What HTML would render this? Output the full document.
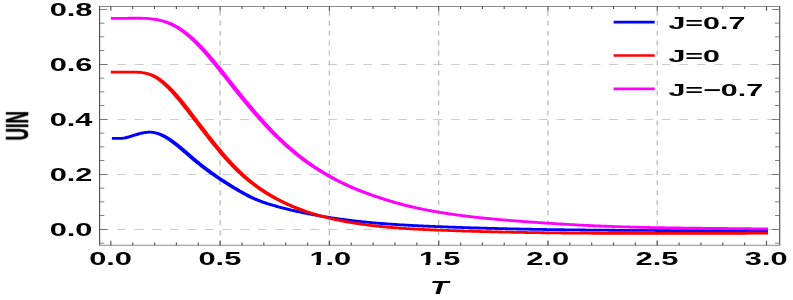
<!DOCTYPE html>
<html><head><meta charset="utf-8"><title>UIN vs T</title>
<style>html,body{margin:0;padding:0;background:#fff;}body{width:793px;height:300px;overflow:hidden;font-family:"Liberation Sans",sans-serif;}svg{display:block;}</style>
</head><body>
<svg width="793" height="300" viewBox="0 0 793 300">
<defs><filter id="idf" x="0" y="0" width="100%" height="100%" filterUnits="userSpaceOnUse" color-interpolation-filters="sRGB"><feOffset dx="0" dy="0"/></filter></defs>
<rect width="793" height="300" fill="#fff"/>
<g transform="scale(1.75,1)">
<g stroke="#bcbcbc" stroke-width="0.75" fill="none">
<path stroke-dasharray="5.02 5.02" d="M56.91,229.30 H445.54"/>
<path stroke-dasharray="5.02 5.02" d="M56.91,174.30 H445.54"/>
<path stroke-dasharray="5.02 5.02" d="M56.91,119.30 H445.54"/>
<path stroke-dasharray="5.02 5.02" d="M56.91,64.30 H445.54"/>
<path stroke-dasharray="4.99 4.99" d="M125.79,245.20 V6.35"/>
<path stroke-dasharray="4.99 4.99" d="M188.23,245.20 V6.35"/>
<path stroke-dasharray="4.99 4.99" d="M250.67,245.20 V6.35"/>
<path stroke-dasharray="4.99 4.99" d="M313.11,245.20 V6.35"/>
<path stroke-dasharray="4.99 4.99" d="M375.56,245.20 V6.35"/>
</g>
<path d="M63.94,138.38 L64.51,138.38 L65.09,138.39 L65.66,138.41 L66.23,138.43 L66.80,138.45 L67.37,138.46 L67.94,138.45 L68.51,138.43 L69.09,138.38 L69.66,138.30 L70.23,138.19 L70.80,138.05 L71.37,137.86 L71.94,137.65 L72.51,137.41 L73.09,137.15 L73.66,136.86 L74.23,136.57 L74.80,136.26 L75.37,135.95 L75.94,135.63 L76.51,135.32 L77.09,135.00 L77.66,134.70 L78.23,134.40 L78.80,134.12 L79.37,133.84 L79.94,133.58 L80.51,133.34 L81.09,133.11 L81.66,132.90 L82.23,132.72 L82.80,132.56 L83.37,132.42 L83.94,132.32 L84.51,132.24 L85.09,132.20 L85.66,132.19 L86.23,132.22 L86.80,132.29 L87.37,132.40 L87.94,132.55 L88.51,132.74 L89.09,132.97 L89.66,133.24 L90.23,133.55 L90.80,133.89 L91.37,134.27 L91.94,134.68 L92.51,135.13 L93.09,135.61 L93.66,136.12 L94.23,136.65 L94.80,137.22 L95.37,137.81 L95.94,138.43 L96.51,139.07 L97.09,139.73 L97.66,140.42 L98.23,141.13 L98.80,141.85 L99.37,142.60 L99.94,143.36 L100.51,144.13 L101.09,144.92 L101.66,145.73 L102.23,146.54 L102.80,147.37 L103.37,148.20 L103.94,149.04 L104.51,149.89 L105.09,150.75 L105.66,151.61 L106.23,152.47 L106.80,153.34 L107.37,154.20 L107.94,155.07 L108.51,155.93 L109.09,156.79 L109.66,157.65 L110.23,158.50 L110.80,159.35 L111.37,160.18 L111.94,161.01 L112.51,161.83 L113.09,162.65 L113.66,163.45 L114.23,164.25 L114.80,165.04 L115.37,165.82 L115.94,166.60 L116.51,167.37 L117.09,168.13 L117.66,168.89 L118.23,169.64 L118.80,170.38 L119.37,171.12 L119.94,171.85 L120.51,172.57 L121.09,173.29 L121.66,174.00 L122.23,174.70 L122.80,175.40 L123.37,176.10 L123.94,176.78 L124.51,177.47 L125.09,178.14 L125.66,178.81 L126.23,179.48 L126.80,180.14 L127.37,180.79 L127.94,181.44 L128.51,182.09 L129.09,182.73 L129.66,183.37 L130.23,184.00 L130.80,184.62 L131.37,185.25 L131.94,185.86 L132.51,186.48 L133.09,187.09 L133.66,187.69 L134.23,188.29 L134.80,188.89 L135.37,189.48 L135.94,190.07 L136.51,190.66 L137.09,191.23 L137.66,191.81 L138.23,192.37 L138.80,192.93 L139.37,193.48 L139.94,194.03 L140.51,194.56 L141.09,195.09 L141.66,195.61 L142.23,196.12 L142.80,196.62 L143.37,197.11 L143.94,197.59 L144.51,198.06 L145.09,198.52 L145.66,198.97 L146.23,199.40 L146.80,199.82 L147.37,200.23 L147.94,200.63 L148.51,201.02 L149.09,201.39 L149.66,201.76 L150.23,202.11 L150.80,202.46 L151.37,202.80 L151.94,203.13 L152.51,203.46 L153.09,203.77 L153.66,204.08 L154.23,204.39 L154.80,204.69 L155.37,204.98 L155.94,205.27 L156.51,205.55 L157.09,205.83 L157.66,206.11 L158.23,206.39 L158.80,206.66 L159.37,206.93 L159.94,207.19 L160.51,207.46 L161.09,207.72 L161.66,207.98 L162.23,208.24 L162.80,208.49 L163.37,208.74 L163.94,208.99 L164.51,209.24 L165.09,209.49 L165.66,209.73 L166.23,209.97 L166.80,210.21 L167.37,210.44 L167.94,210.67 L168.51,210.90 L169.09,211.13 L169.66,211.36 L170.23,211.58 L170.80,211.80 L171.37,212.02 L171.94,212.24 L172.51,212.45 L173.09,212.66 L173.66,212.87 L174.23,213.08 L174.80,213.28 L175.37,213.49 L175.94,213.69 L176.51,213.89 L177.09,214.08 L177.66,214.28 L178.23,214.47 L178.80,214.66 L179.37,214.85 L179.94,215.03 L180.51,215.22 L181.09,215.40 L181.66,215.58 L182.23,215.76 L182.80,215.93 L183.37,216.11 L183.94,216.28 L184.51,216.45 L185.09,216.62 L185.66,216.78 L186.23,216.95 L186.80,217.11 L187.37,217.27 L187.94,217.43 L188.51,217.58 L189.09,217.74 L189.66,217.89 L190.23,218.04 L190.80,218.19 L191.37,218.34 L191.94,218.48 L192.51,218.63 L193.09,218.77 L193.66,218.91 L194.23,219.05 L194.80,219.19 L195.37,219.32 L195.94,219.46 L196.51,219.59 L197.09,219.72 L197.66,219.85 L198.23,219.97 L198.80,220.10 L199.37,220.22 L199.94,220.35 L200.51,220.47 L201.09,220.59 L201.66,220.70 L202.23,220.82 L202.80,220.93 L203.37,221.05 L203.94,221.16 L204.51,221.27 L205.09,221.38 L205.66,221.48 L206.23,221.59 L206.80,221.69 L207.37,221.80 L207.94,221.90 L208.51,222.00 L209.09,222.10 L209.66,222.20 L210.23,222.29 L210.80,222.39 L211.37,222.48 L211.94,222.57 L212.51,222.67 L213.09,222.76 L213.66,222.84 L214.23,222.93 L214.80,223.02 L215.37,223.10 L215.94,223.19 L216.51,223.27 L217.09,223.35 L217.66,223.43 L218.23,223.51 L218.80,223.59 L219.37,223.67 L219.94,223.74 L220.51,223.82 L221.09,223.89 L221.66,223.97 L222.23,224.04 L222.80,224.11 L223.37,224.18 L223.94,224.25 L224.51,224.32 L225.09,224.38 L225.66,224.45 L226.23,224.51 L226.80,224.58 L227.37,224.64 L227.94,224.70 L228.51,224.77 L229.09,224.83 L229.66,224.89 L230.23,224.95 L230.80,225.01 L231.37,225.06 L231.94,225.12 L232.51,225.18 L233.09,225.23 L233.66,225.29 L234.23,225.34 L234.80,225.39 L235.37,225.45 L235.94,225.50 L236.51,225.55 L237.09,225.60 L237.66,225.65 L238.23,225.70 L238.80,225.75 L239.37,225.80 L239.94,225.84 L240.51,225.89 L241.09,225.94 L241.66,225.98 L242.23,226.03 L242.80,226.07 L243.37,226.12 L243.94,226.16 L244.51,226.21 L245.09,226.25 L245.66,226.29 L246.23,226.33 L246.80,226.38 L247.37,226.42 L247.94,226.46 L248.51,226.50 L249.09,226.54 L249.66,226.58 L250.23,226.62 L250.80,226.66 L251.37,226.70 L251.94,226.74 L252.51,226.77 L253.09,226.81 L253.66,226.85 L254.23,226.89 L254.80,226.93 L255.37,226.96 L255.94,227.00 L256.51,227.04 L257.09,227.07 L257.66,227.11 L258.23,227.15 L258.80,227.18 L259.37,227.22 L259.94,227.25 L260.51,227.29 L261.09,227.32 L261.66,227.36 L262.23,227.39 L262.80,227.43 L263.37,227.46 L263.94,227.49 L264.51,227.53 L265.09,227.56 L265.66,227.59 L266.23,227.62 L266.80,227.66 L267.37,227.69 L267.94,227.72 L268.51,227.75 L269.09,227.78 L269.66,227.81 L270.23,227.84 L270.80,227.88 L271.37,227.91 L271.94,227.94 L272.51,227.97 L273.09,227.99 L273.66,228.02 L274.23,228.05 L274.80,228.08 L275.37,228.11 L275.94,228.14 L276.51,228.17 L277.09,228.20 L277.66,228.22 L278.23,228.25 L278.80,228.28 L279.37,228.31 L279.94,228.33 L280.51,228.36 L281.09,228.39 L281.66,228.41 L282.23,228.44 L282.80,228.46 L283.37,228.49 L283.94,228.51 L284.51,228.54 L285.09,228.56 L285.66,228.59 L286.23,228.61 L286.80,228.64 L287.37,228.66 L287.94,228.69 L288.51,228.71 L289.09,228.73 L289.66,228.76 L290.23,228.78 L290.80,228.80 L291.37,228.82 L291.94,228.85 L292.51,228.87 L293.09,228.89 L293.66,228.91 L294.23,228.93 L294.80,228.96 L295.37,228.98 L295.94,229.00 L296.51,229.02 L297.09,229.04 L297.66,229.06 L298.23,229.08 L298.80,229.10 L299.37,229.12 L299.94,229.14 L300.51,229.16 L301.09,229.18 L301.66,229.20 L302.23,229.22 L302.80,229.24 L303.37,229.25 L303.94,229.27 L304.51,229.29 L305.09,229.31 L305.66,229.33 L306.23,229.34 L306.80,229.36 L307.37,229.38 L307.94,229.40 L308.51,229.41 L309.09,229.43 L309.66,229.45 L310.23,229.46 L310.80,229.48 L311.37,229.50 L311.94,229.51 L312.51,229.53 L313.09,229.54 L313.66,229.56 L314.23,229.57 L314.80,229.59 L315.37,229.61 L315.94,229.62 L316.51,229.63 L317.09,229.65 L317.66,229.66 L318.23,229.68 L318.80,229.69 L319.37,229.71 L319.94,229.72 L320.51,229.73 L321.09,229.75 L321.66,229.76 L322.23,229.77 L322.80,229.79 L323.37,229.80 L323.94,229.81 L324.51,229.82 L325.09,229.84 L325.66,229.85 L326.23,229.86 L326.80,229.87 L327.37,229.89 L327.94,229.90 L328.51,229.91 L329.09,229.92 L329.66,229.93 L330.23,229.94 L330.80,229.95 L331.37,229.96 L331.94,229.98 L332.51,229.99 L333.09,230.00 L333.66,230.01 L334.23,230.02 L334.80,230.03 L335.37,230.04 L335.94,230.05 L336.51,230.06 L337.09,230.07 L337.66,230.08 L338.23,230.09 L338.80,230.09 L339.37,230.10 L339.94,230.11 L340.51,230.12 L341.09,230.13 L341.66,230.14 L342.23,230.15 L342.80,230.16 L343.37,230.16 L343.94,230.17 L344.51,230.18 L345.09,230.19 L345.66,230.20 L346.23,230.20 L346.80,230.21 L347.37,230.22 L347.94,230.23 L348.51,230.23 L349.09,230.24 L349.66,230.25 L350.23,230.26 L350.80,230.26 L351.37,230.27 L351.94,230.28 L352.51,230.28 L353.09,230.29 L353.66,230.30 L354.23,230.30 L354.80,230.31 L355.37,230.32 L355.94,230.32 L356.51,230.33 L357.09,230.33 L357.66,230.34 L358.23,230.34 L358.80,230.35 L359.37,230.36 L359.94,230.36 L360.51,230.37 L361.09,230.37 L361.66,230.38 L362.23,230.38 L362.80,230.39 L363.37,230.39 L363.94,230.40 L364.51,230.40 L365.09,230.41 L365.66,230.41 L366.23,230.42 L366.80,230.42 L367.37,230.43 L367.94,230.43 L368.51,230.43 L369.09,230.44 L369.66,230.44 L370.23,230.45 L370.80,230.45 L371.37,230.46 L371.94,230.46 L372.51,230.46 L373.09,230.47 L373.66,230.47 L374.23,230.47 L374.80,230.48 L375.37,230.48 L375.94,230.49 L376.51,230.49 L377.09,230.49 L377.66,230.50 L378.23,230.50 L378.80,230.50 L379.37,230.51 L379.94,230.51 L380.51,230.51 L381.09,230.51 L381.66,230.52 L382.23,230.52 L382.80,230.52 L383.37,230.53 L383.94,230.53 L384.51,230.53 L385.09,230.54 L385.66,230.54 L386.23,230.54 L386.80,230.54 L387.37,230.55 L387.94,230.55 L388.51,230.55 L389.09,230.55 L389.66,230.56 L390.23,230.56 L390.80,230.56 L391.37,230.56 L391.94,230.57 L392.51,230.57 L393.09,230.57 L393.66,230.57 L394.23,230.57 L394.80,230.58 L395.37,230.58 L395.94,230.58 L396.51,230.58 L397.09,230.59 L397.66,230.59 L398.23,230.59 L398.80,230.59 L399.37,230.59 L399.94,230.60 L400.51,230.60 L401.09,230.60 L401.66,230.60 L402.23,230.60 L402.80,230.61 L403.37,230.61 L403.94,230.61 L404.51,230.61 L405.09,230.61 L405.66,230.62 L406.23,230.62 L406.80,230.62 L407.37,230.62 L407.94,230.62 L408.51,230.63 L409.09,230.63 L409.66,230.63 L410.23,230.63 L410.80,230.63 L411.37,230.64 L411.94,230.64 L412.51,230.64 L413.09,230.64 L413.66,230.64 L414.23,230.65 L414.80,230.65 L415.37,230.65 L415.94,230.65 L416.51,230.65 L417.09,230.66 L417.66,230.66 L418.23,230.66 L418.80,230.66 L419.37,230.66 L419.94,230.67 L420.51,230.67 L421.09,230.67 L421.66,230.67 L422.23,230.67 L422.80,230.68 L423.37,230.68 L423.94,230.68 L424.51,230.68 L425.09,230.69 L425.66,230.69 L426.23,230.69 L426.80,230.69 L427.37,230.70 L427.94,230.70 L428.51,230.70 L429.09,230.70 L429.66,230.71 L430.23,230.71 L430.80,230.71 L431.37,230.71 L431.94,230.72 L432.51,230.72 L433.09,230.72 L433.66,230.73 L434.23,230.73 L434.80,230.73 L435.37,230.74 L435.94,230.74 L436.51,230.74 L437.09,230.74 L437.66,230.75 L438.23,230.75 L438.86,230.75" fill="none" stroke="#0000ff" stroke-width="2.8" stroke-linejoin="round"/>
<path d="M63.34,72.07 L63.91,72.09 L64.49,72.10 L65.06,72.11 L65.63,72.11 L66.20,72.12 L66.77,72.12 L67.34,72.12 L67.91,72.12 L68.49,72.11 L69.06,72.11 L69.63,72.11 L70.20,72.10 L70.77,72.10 L71.34,72.09 L71.91,72.09 L72.49,72.09 L73.06,72.09 L73.63,72.09 L74.20,72.09 L74.77,72.09 L75.34,72.10 L75.91,72.11 L76.49,72.12 L77.06,72.14 L77.63,72.17 L78.20,72.20 L78.77,72.25 L79.34,72.32 L79.91,72.39 L80.49,72.49 L81.06,72.60 L81.63,72.74 L82.20,72.90 L82.77,73.08 L83.34,73.29 L83.91,73.53 L84.49,73.79 L85.06,74.09 L85.63,74.42 L86.20,74.79 L86.77,75.20 L87.34,75.64 L87.91,76.13 L88.49,76.66 L89.06,77.22 L89.63,77.82 L90.20,78.46 L90.77,79.14 L91.34,79.85 L91.91,80.60 L92.49,81.38 L93.06,82.19 L93.63,83.03 L94.20,83.90 L94.77,84.80 L95.34,85.73 L95.91,86.69 L96.49,87.67 L97.06,88.68 L97.63,89.71 L98.20,90.76 L98.77,91.84 L99.34,92.94 L99.91,94.06 L100.49,95.19 L101.06,96.35 L101.63,97.52 L102.20,98.71 L102.77,99.92 L103.34,101.13 L103.91,102.37 L104.49,103.61 L105.06,104.86 L105.63,106.13 L106.20,107.40 L106.77,108.68 L107.34,109.97 L107.91,111.27 L108.49,112.57 L109.06,113.87 L109.63,115.18 L110.20,116.49 L110.77,117.80 L111.34,119.12 L111.91,120.43 L112.49,121.74 L113.06,123.05 L113.63,124.36 L114.20,125.66 L114.77,126.97 L115.34,128.27 L115.91,129.57 L116.49,130.87 L117.06,132.16 L117.63,133.45 L118.20,134.74 L118.77,136.02 L119.34,137.30 L119.91,138.57 L120.49,139.83 L121.06,141.09 L121.63,142.34 L122.20,143.59 L122.77,144.83 L123.34,146.06 L123.91,147.28 L124.49,148.50 L125.06,149.70 L125.63,150.90 L126.20,152.09 L126.77,153.27 L127.34,154.43 L127.91,155.59 L128.49,156.74 L129.06,157.87 L129.63,159.00 L130.20,160.11 L130.77,161.21 L131.34,162.30 L131.91,163.37 L132.49,164.43 L133.06,165.48 L133.63,166.52 L134.20,167.53 L134.77,168.54 L135.34,169.53 L135.91,170.50 L136.49,171.46 L137.06,172.41 L137.63,173.34 L138.20,174.26 L138.77,175.16 L139.34,176.06 L139.91,176.93 L140.49,177.80 L141.06,178.65 L141.63,179.49 L142.20,180.31 L142.77,181.13 L143.34,181.93 L143.91,182.72 L144.49,183.49 L145.06,184.26 L145.63,185.01 L146.20,185.75 L146.77,186.49 L147.34,187.20 L147.91,187.91 L148.49,188.61 L149.06,189.30 L149.63,189.97 L150.20,190.64 L150.77,191.29 L151.34,191.94 L151.91,192.57 L152.49,193.20 L153.06,193.81 L153.63,194.42 L154.20,195.02 L154.77,195.60 L155.34,196.18 L155.91,196.75 L156.49,197.32 L157.06,197.87 L157.63,198.41 L158.20,198.95 L158.77,199.48 L159.34,200.00 L159.91,200.51 L160.49,201.02 L161.06,201.52 L161.63,202.01 L162.20,202.49 L162.77,202.96 L163.34,203.43 L163.91,203.89 L164.49,204.35 L165.06,204.79 L165.63,205.23 L166.20,205.67 L166.77,206.09 L167.34,206.51 L167.91,206.93 L168.49,207.33 L169.06,207.73 L169.63,208.13 L170.20,208.52 L170.77,208.90 L171.34,209.28 L171.91,209.65 L172.49,210.01 L173.06,210.37 L173.63,210.72 L174.20,211.07 L174.77,211.42 L175.34,211.75 L175.91,212.09 L176.49,212.41 L177.06,212.74 L177.63,213.05 L178.20,213.37 L178.77,213.67 L179.34,213.98 L179.91,214.28 L180.49,214.57 L181.06,214.86 L181.63,215.15 L182.20,215.43 L182.77,215.71 L183.34,215.98 L183.91,216.25 L184.49,216.51 L185.06,216.78 L185.63,217.03 L186.20,217.29 L186.77,217.54 L187.34,217.78 L187.91,218.03 L188.49,218.27 L189.06,218.50 L189.63,218.73 L190.20,218.96 L190.77,219.18 L191.34,219.40 L191.91,219.62 L192.49,219.84 L193.06,220.05 L193.63,220.25 L194.20,220.46 L194.77,220.66 L195.34,220.86 L195.91,221.05 L196.49,221.24 L197.06,221.43 L197.63,221.62 L198.20,221.80 L198.77,221.98 L199.34,222.16 L199.91,222.33 L200.49,222.50 L201.06,222.67 L201.63,222.83 L202.20,223.00 L202.77,223.16 L203.34,223.31 L203.91,223.47 L204.49,223.62 L205.06,223.77 L205.63,223.92 L206.20,224.06 L206.77,224.21 L207.34,224.35 L207.91,224.48 L208.49,224.62 L209.06,224.75 L209.63,224.89 L210.20,225.01 L210.77,225.14 L211.34,225.27 L211.91,225.39 L212.49,225.51 L213.06,225.63 L213.63,225.74 L214.20,225.86 L214.77,225.97 L215.34,226.08 L215.91,226.19 L216.49,226.29 L217.06,226.40 L217.63,226.50 L218.20,226.60 L218.77,226.70 L219.34,226.80 L219.91,226.89 L220.49,226.99 L221.06,227.08 L221.63,227.17 L222.20,227.26 L222.77,227.34 L223.34,227.43 L223.91,227.51 L224.49,227.59 L225.06,227.67 L225.63,227.75 L226.20,227.83 L226.77,227.91 L227.34,227.98 L227.91,228.05 L228.49,228.13 L229.06,228.20 L229.63,228.27 L230.20,228.33 L230.77,228.40 L231.34,228.47 L231.91,228.53 L232.49,228.59 L233.06,228.65 L233.63,228.71 L234.20,228.77 L234.77,228.83 L235.34,228.89 L235.91,228.95 L236.49,229.00 L237.06,229.06 L237.63,229.11 L238.20,229.16 L238.77,229.21 L239.34,229.26 L239.91,229.31 L240.49,229.36 L241.06,229.41 L241.63,229.46 L242.20,229.50 L242.77,229.55 L243.34,229.60 L243.91,229.64 L244.49,229.68 L245.06,229.73 L245.63,229.77 L246.20,229.81 L246.77,229.85 L247.34,229.90 L247.91,229.94 L248.49,229.98 L249.06,230.02 L249.63,230.06 L250.20,230.10 L250.77,230.13 L251.34,230.17 L251.91,230.21 L252.49,230.25 L253.06,230.29 L253.63,230.32 L254.20,230.36 L254.77,230.40 L255.34,230.43 L255.91,230.47 L256.49,230.50 L257.06,230.54 L257.63,230.58 L258.20,230.61 L258.77,230.65 L259.34,230.68 L259.91,230.71 L260.49,230.75 L261.06,230.78 L261.63,230.81 L262.20,230.85 L262.77,230.88 L263.34,230.91 L263.91,230.94 L264.49,230.98 L265.06,231.01 L265.63,231.04 L266.20,231.07 L266.77,231.10 L267.34,231.13 L267.91,231.16 L268.49,231.19 L269.06,231.22 L269.63,231.25 L270.20,231.28 L270.77,231.31 L271.34,231.34 L271.91,231.37 L272.49,231.40 L273.06,231.42 L273.63,231.45 L274.20,231.48 L274.77,231.51 L275.34,231.53 L275.91,231.56 L276.49,231.59 L277.06,231.61 L277.63,231.64 L278.20,231.67 L278.77,231.69 L279.34,231.72 L279.91,231.74 L280.49,231.77 L281.06,231.79 L281.63,231.82 L282.20,231.84 L282.77,231.86 L283.34,231.89 L283.91,231.91 L284.49,231.93 L285.06,231.96 L285.63,231.98 L286.20,232.00 L286.77,232.02 L287.34,232.05 L287.91,232.07 L288.49,232.09 L289.06,232.11 L289.63,232.13 L290.20,232.15 L290.77,232.17 L291.34,232.19 L291.91,232.21 L292.49,232.23 L293.06,232.25 L293.63,232.27 L294.20,232.29 L294.77,232.31 L295.34,232.33 L295.91,232.35 L296.49,232.37 L297.06,232.39 L297.63,232.41 L298.20,232.42 L298.77,232.44 L299.34,232.46 L299.91,232.48 L300.49,232.49 L301.06,232.51 L301.63,232.53 L302.20,232.54 L302.77,232.56 L303.34,232.58 L303.91,232.59 L304.49,232.61 L305.06,232.62 L305.63,232.64 L306.20,232.65 L306.77,232.67 L307.34,232.68 L307.91,232.70 L308.49,232.71 L309.06,232.73 L309.63,232.74 L310.20,232.75 L310.77,232.77 L311.34,232.78 L311.91,232.79 L312.49,232.81 L313.06,232.82 L313.63,232.83 L314.20,232.85 L314.77,232.86 L315.34,232.87 L315.91,232.88 L316.49,232.89 L317.06,232.91 L317.63,232.92 L318.20,232.93 L318.77,232.94 L319.34,232.95 L319.91,232.96 L320.49,232.97 L321.06,232.98 L321.63,232.99 L322.20,233.00 L322.77,233.01 L323.34,233.02 L323.91,233.03 L324.49,233.04 L325.06,233.05 L325.63,233.06 L326.20,233.07 L326.77,233.08 L327.34,233.09 L327.91,233.10 L328.49,233.11 L329.06,233.11 L329.63,233.12 L330.20,233.13 L330.77,233.14 L331.34,233.15 L331.91,233.15 L332.49,233.16 L333.06,233.17 L333.63,233.18 L334.20,233.18 L334.77,233.19 L335.34,233.20 L335.91,233.20 L336.49,233.21 L337.06,233.22 L337.63,233.22 L338.20,233.23 L338.77,233.23 L339.34,233.24 L339.91,233.25 L340.49,233.25 L341.06,233.26 L341.63,233.26 L342.20,233.27 L342.77,233.27 L343.34,233.28 L343.91,233.28 L344.49,233.29 L345.06,233.29 L345.63,233.30 L346.20,233.30 L346.77,233.30 L347.34,233.31 L347.91,233.31 L348.49,233.32 L349.06,233.32 L349.63,233.32 L350.20,233.33 L350.77,233.33 L351.34,233.33 L351.91,233.34 L352.49,233.34 L353.06,233.34 L353.63,233.35 L354.20,233.35 L354.77,233.35 L355.34,233.35 L355.91,233.36 L356.49,233.36 L357.06,233.36 L357.63,233.36 L358.20,233.37 L358.77,233.37 L359.34,233.37 L359.91,233.37 L360.49,233.37 L361.06,233.37 L361.63,233.38 L362.20,233.38 L362.77,233.38 L363.34,233.38 L363.91,233.38 L364.49,233.38 L365.06,233.38 L365.63,233.38 L366.20,233.38 L366.77,233.39 L367.34,233.39 L367.91,233.39 L368.49,233.39 L369.06,233.39 L369.63,233.39 L370.20,233.39 L370.77,233.39 L371.34,233.39 L371.91,233.39 L372.49,233.39 L373.06,233.39 L373.63,233.39 L374.20,233.39 L374.77,233.39 L375.34,233.39 L375.91,233.39 L376.49,233.39 L377.06,233.39 L377.63,233.39 L378.20,233.39 L378.77,233.38 L379.34,233.38 L379.91,233.38 L380.49,233.38 L381.06,233.38 L381.63,233.38 L382.20,233.38 L382.77,233.38 L383.34,233.38 L383.91,233.38 L384.49,233.37 L385.06,233.37 L385.63,233.37 L386.20,233.37 L386.77,233.37 L387.34,233.37 L387.91,233.37 L388.49,233.37 L389.06,233.36 L389.63,233.36 L390.20,233.36 L390.77,233.36 L391.34,233.36 L391.91,233.36 L392.49,233.35 L393.06,233.35 L393.63,233.35 L394.20,233.35 L394.77,233.35 L395.34,233.34 L395.91,233.34 L396.49,233.34 L397.06,233.34 L397.63,233.34 L398.20,233.33 L398.77,233.33 L399.34,233.33 L399.91,233.33 L400.49,233.33 L401.06,233.32 L401.63,233.32 L402.20,233.32 L402.77,233.32 L403.34,233.31 L403.91,233.31 L404.49,233.31 L405.06,233.31 L405.63,233.31 L406.20,233.30 L406.77,233.30 L407.34,233.30 L407.91,233.30 L408.49,233.29 L409.06,233.29 L409.63,233.29 L410.20,233.29 L410.77,233.29 L411.34,233.28 L411.91,233.28 L412.49,233.28 L413.06,233.28 L413.63,233.27 L414.20,233.27 L414.77,233.27 L415.34,233.27 L415.91,233.26 L416.49,233.26 L417.06,233.26 L417.63,233.26 L418.20,233.26 L418.77,233.25 L419.34,233.25 L419.91,233.25 L420.49,233.25 L421.06,233.25 L421.63,233.24 L422.20,233.24 L422.77,233.24 L423.34,233.24 L423.91,233.24 L424.49,233.23 L425.06,233.23 L425.63,233.23 L426.20,233.23 L426.77,233.23 L427.34,233.22 L427.91,233.22 L428.49,233.22 L429.06,233.22 L429.63,233.22 L430.20,233.22 L430.77,233.21 L431.34,233.21 L431.91,233.21 L432.49,233.21 L433.06,233.21 L433.63,233.21 L434.20,233.20 L434.77,233.20 L435.34,233.20 L435.91,233.20 L436.49,233.20 L437.06,233.20 L437.63,233.20 L438.20,233.20 L438.86,233.20" fill="none" stroke="#ff0000" stroke-width="2.8" stroke-linejoin="round"/>
<path d="M63.34,18.27 L63.91,18.28 L64.49,18.29 L65.06,18.30 L65.63,18.31 L66.20,18.32 L66.77,18.32 L67.34,18.32 L67.91,18.32 L68.49,18.32 L69.06,18.32 L69.63,18.32 L70.20,18.31 L70.77,18.31 L71.34,18.30 L71.91,18.29 L72.49,18.29 L73.06,18.28 L73.63,18.27 L74.20,18.26 L74.77,18.25 L75.34,18.25 L75.91,18.24 L76.49,18.23 L77.06,18.23 L77.63,18.22 L78.20,18.22 L78.77,18.23 L79.34,18.23 L79.91,18.24 L80.49,18.26 L81.06,18.28 L81.63,18.31 L82.20,18.34 L82.77,18.38 L83.34,18.42 L83.91,18.48 L84.49,18.54 L85.06,18.62 L85.63,18.70 L86.20,18.80 L86.77,18.90 L87.34,19.02 L87.91,19.15 L88.49,19.30 L89.06,19.46 L89.63,19.64 L90.20,19.83 L90.77,20.03 L91.34,20.26 L91.91,20.50 L92.49,20.75 L93.06,21.03 L93.63,21.32 L94.20,21.63 L94.77,21.96 L95.34,22.32 L95.91,22.69 L96.49,23.08 L97.06,23.50 L97.63,23.93 L98.20,24.39 L98.77,24.87 L99.34,25.38 L99.91,25.91 L100.49,26.46 L101.06,27.04 L101.63,27.64 L102.20,28.26 L102.77,28.91 L103.34,29.58 L103.91,30.27 L104.49,30.98 L105.06,31.71 L105.63,32.47 L106.20,33.25 L106.77,34.04 L107.34,34.86 L107.91,35.70 L108.49,36.56 L109.06,37.44 L109.63,38.33 L110.20,39.25 L110.77,40.18 L111.34,41.14 L111.91,42.11 L112.49,43.10 L113.06,44.10 L113.63,45.12 L114.20,46.16 L114.77,47.21 L115.34,48.28 L115.91,49.37 L116.49,50.46 L117.06,51.57 L117.63,52.69 L118.20,53.83 L118.77,54.97 L119.34,56.13 L119.91,57.30 L120.49,58.47 L121.06,59.66 L121.63,60.86 L122.20,62.06 L122.77,63.27 L123.34,64.49 L123.91,65.72 L124.49,66.95 L125.06,68.19 L125.63,69.44 L126.20,70.68 L126.77,71.94 L127.34,73.19 L127.91,74.45 L128.49,75.72 L129.06,76.98 L129.63,78.25 L130.20,79.51 L130.77,80.78 L131.34,82.05 L131.91,83.31 L132.49,84.58 L133.06,85.84 L133.63,87.10 L134.20,88.36 L134.77,89.62 L135.34,90.87 L135.91,92.12 L136.49,93.37 L137.06,94.61 L137.63,95.84 L138.20,97.08 L138.77,98.30 L139.34,99.53 L139.91,100.75 L140.49,101.96 L141.06,103.17 L141.63,104.38 L142.20,105.58 L142.77,106.77 L143.34,107.96 L143.91,109.14 L144.49,110.32 L145.06,111.49 L145.63,112.65 L146.20,113.81 L146.77,114.96 L147.34,116.11 L147.91,117.24 L148.49,118.37 L149.06,119.50 L149.63,120.61 L150.20,121.72 L150.77,122.82 L151.34,123.92 L151.91,125.00 L152.49,126.08 L153.06,127.15 L153.63,128.21 L154.20,129.26 L154.77,130.30 L155.34,131.34 L155.91,132.36 L156.49,133.38 L157.06,134.39 L157.63,135.39 L158.20,136.37 L158.77,137.35 L159.34,138.32 L159.91,139.28 L160.49,140.23 L161.06,141.17 L161.63,142.10 L162.20,143.02 L162.77,143.93 L163.34,144.84 L163.91,145.73 L164.49,146.62 L165.06,147.49 L165.63,148.36 L166.20,149.22 L166.77,150.07 L167.34,150.91 L167.91,151.74 L168.49,152.57 L169.06,153.38 L169.63,154.19 L170.20,154.99 L170.77,155.78 L171.34,156.56 L171.91,157.34 L172.49,158.10 L173.06,158.86 L173.63,159.61 L174.20,160.35 L174.77,161.09 L175.34,161.81 L175.91,162.53 L176.49,163.24 L177.06,163.94 L177.63,164.64 L178.20,165.32 L178.77,166.00 L179.34,166.68 L179.91,167.34 L180.49,168.00 L181.06,168.65 L181.63,169.29 L182.20,169.93 L182.77,170.56 L183.34,171.18 L183.91,171.80 L184.49,172.41 L185.06,173.01 L185.63,173.60 L186.20,174.19 L186.77,174.77 L187.34,175.35 L187.91,175.92 L188.49,176.48 L189.06,177.03 L189.63,177.58 L190.20,178.13 L190.77,178.66 L191.34,179.19 L191.91,179.72 L192.49,180.24 L193.06,180.75 L193.63,181.26 L194.20,181.76 L194.77,182.25 L195.34,182.74 L195.91,183.22 L196.49,183.70 L197.06,184.17 L197.63,184.64 L198.20,185.10 L198.77,185.56 L199.34,186.01 L199.91,186.45 L200.49,186.90 L201.06,187.33 L201.63,187.76 L202.20,188.19 L202.77,188.61 L203.34,189.02 L203.91,189.43 L204.49,189.84 L205.06,190.24 L205.63,190.63 L206.20,191.03 L206.77,191.41 L207.34,191.80 L207.91,192.18 L208.49,192.55 L209.06,192.92 L209.63,193.29 L210.20,193.65 L210.77,194.01 L211.34,194.37 L211.91,194.73 L212.49,195.08 L213.06,195.42 L213.63,195.77 L214.20,196.11 L214.77,196.45 L215.34,196.79 L215.91,197.12 L216.49,197.46 L217.06,197.79 L217.63,198.11 L218.20,198.44 L218.77,198.76 L219.34,199.09 L219.91,199.40 L220.49,199.72 L221.06,200.03 L221.63,200.34 L222.20,200.65 L222.77,200.96 L223.34,201.26 L223.91,201.56 L224.49,201.86 L225.06,202.15 L225.63,202.44 L226.20,202.73 L226.77,203.01 L227.34,203.29 L227.91,203.57 L228.49,203.84 L229.06,204.11 L229.63,204.38 L230.20,204.64 L230.77,204.90 L231.34,205.15 L231.91,205.41 L232.49,205.66 L233.06,205.90 L233.63,206.15 L234.20,206.39 L234.77,206.63 L235.34,206.86 L235.91,207.09 L236.49,207.32 L237.06,207.54 L237.63,207.77 L238.20,207.99 L238.77,208.20 L239.34,208.42 L239.91,208.63 L240.49,208.84 L241.06,209.05 L241.63,209.25 L242.20,209.45 L242.77,209.65 L243.34,209.85 L243.91,210.04 L244.49,210.23 L245.06,210.42 L245.63,210.61 L246.20,210.79 L246.77,210.97 L247.34,211.16 L247.91,211.33 L248.49,211.51 L249.06,211.68 L249.63,211.86 L250.20,212.03 L250.77,212.19 L251.34,212.36 L251.91,212.52 L252.49,212.69 L253.06,212.85 L253.63,213.01 L254.20,213.16 L254.77,213.32 L255.34,213.47 L255.91,213.62 L256.49,213.77 L257.06,213.92 L257.63,214.07 L258.20,214.22 L258.77,214.36 L259.34,214.50 L259.91,214.64 L260.49,214.78 L261.06,214.92 L261.63,215.05 L262.20,215.19 L262.77,215.32 L263.34,215.45 L263.91,215.58 L264.49,215.71 L265.06,215.84 L265.63,215.96 L266.20,216.09 L266.77,216.21 L267.34,216.33 L267.91,216.45 L268.49,216.57 L269.06,216.69 L269.63,216.80 L270.20,216.92 L270.77,217.03 L271.34,217.14 L271.91,217.26 L272.49,217.37 L273.06,217.48 L273.63,217.58 L274.20,217.69 L274.77,217.79 L275.34,217.90 L275.91,218.00 L276.49,218.10 L277.06,218.21 L277.63,218.31 L278.20,218.41 L278.77,218.50 L279.34,218.60 L279.91,218.70 L280.49,218.79 L281.06,218.89 L281.63,218.98 L282.20,219.07 L282.77,219.16 L283.34,219.25 L283.91,219.34 L284.49,219.43 L285.06,219.52 L285.63,219.61 L286.20,219.70 L286.77,219.78 L287.34,219.87 L287.91,219.95 L288.49,220.04 L289.06,220.12 L289.63,220.20 L290.20,220.29 L290.77,220.37 L291.34,220.45 L291.91,220.53 L292.49,220.61 L293.06,220.69 L293.63,220.77 L294.20,220.84 L294.77,220.92 L295.34,221.00 L295.91,221.08 L296.49,221.15 L297.06,221.23 L297.63,221.30 L298.20,221.38 L298.77,221.45 L299.34,221.53 L299.91,221.60 L300.49,221.68 L301.06,221.75 L301.63,221.82 L302.20,221.89 L302.77,221.97 L303.34,222.04 L303.91,222.11 L304.49,222.18 L305.06,222.25 L305.63,222.32 L306.20,222.39 L306.77,222.46 L307.34,222.53 L307.91,222.60 L308.49,222.67 L309.06,222.74 L309.63,222.80 L310.20,222.87 L310.77,222.94 L311.34,223.01 L311.91,223.07 L312.49,223.14 L313.06,223.20 L313.63,223.27 L314.20,223.33 L314.77,223.40 L315.34,223.46 L315.91,223.52 L316.49,223.59 L317.06,223.65 L317.63,223.71 L318.20,223.77 L318.77,223.83 L319.34,223.89 L319.91,223.95 L320.49,224.01 L321.06,224.07 L321.63,224.13 L322.20,224.19 L322.77,224.25 L323.34,224.31 L323.91,224.36 L324.49,224.42 L325.06,224.48 L325.63,224.53 L326.20,224.59 L326.77,224.64 L327.34,224.70 L327.91,224.75 L328.49,224.81 L329.06,224.86 L329.63,224.91 L330.20,224.96 L330.77,225.02 L331.34,225.07 L331.91,225.12 L332.49,225.17 L333.06,225.22 L333.63,225.27 L334.20,225.32 L334.77,225.37 L335.34,225.41 L335.91,225.46 L336.49,225.51 L337.06,225.56 L337.63,225.60 L338.20,225.65 L338.77,225.69 L339.34,225.74 L339.91,225.78 L340.49,225.83 L341.06,225.87 L341.63,225.91 L342.20,225.95 L342.77,226.00 L343.34,226.04 L343.91,226.08 L344.49,226.12 L345.06,226.16 L345.63,226.20 L346.20,226.24 L346.77,226.27 L347.34,226.31 L347.91,226.35 L348.49,226.39 L349.06,226.42 L349.63,226.46 L350.20,226.49 L350.77,226.53 L351.34,226.56 L351.91,226.60 L352.49,226.63 L353.06,226.66 L353.63,226.69 L354.20,226.73 L354.77,226.76 L355.34,226.79 L355.91,226.82 L356.49,226.85 L357.06,226.88 L357.63,226.91 L358.20,226.94 L358.77,226.97 L359.34,227.00 L359.91,227.02 L360.49,227.05 L361.06,227.08 L361.63,227.11 L362.20,227.13 L362.77,227.16 L363.34,227.18 L363.91,227.21 L364.49,227.23 L365.06,227.26 L365.63,227.28 L366.20,227.31 L366.77,227.33 L367.34,227.35 L367.91,227.38 L368.49,227.40 L369.06,227.42 L369.63,227.44 L370.20,227.46 L370.77,227.49 L371.34,227.51 L371.91,227.53 L372.49,227.55 L373.06,227.57 L373.63,227.59 L374.20,227.61 L374.77,227.63 L375.34,227.64 L375.91,227.66 L376.49,227.68 L377.06,227.70 L377.63,227.72 L378.20,227.73 L378.77,227.75 L379.34,227.77 L379.91,227.78 L380.49,227.80 L381.06,227.82 L381.63,227.83 L382.20,227.85 L382.77,227.86 L383.34,227.88 L383.91,227.89 L384.49,227.91 L385.06,227.92 L385.63,227.94 L386.20,227.95 L386.77,227.97 L387.34,227.98 L387.91,227.99 L388.49,228.01 L389.06,228.02 L389.63,228.03 L390.20,228.05 L390.77,228.06 L391.34,228.07 L391.91,228.09 L392.49,228.10 L393.06,228.11 L393.63,228.12 L394.20,228.13 L394.77,228.15 L395.34,228.16 L395.91,228.17 L396.49,228.18 L397.06,228.19 L397.63,228.20 L398.20,228.21 L398.77,228.22 L399.34,228.24 L399.91,228.25 L400.49,228.26 L401.06,228.27 L401.63,228.28 L402.20,228.29 L402.77,228.30 L403.34,228.31 L403.91,228.32 L404.49,228.33 L405.06,228.34 L405.63,228.35 L406.20,228.36 L406.77,228.37 L407.34,228.38 L407.91,228.39 L408.49,228.40 L409.06,228.41 L409.63,228.42 L410.20,228.43 L410.77,228.44 L411.34,228.45 L411.91,228.46 L412.49,228.47 L413.06,228.48 L413.63,228.49 L414.20,228.50 L414.77,228.51 L415.34,228.52 L415.91,228.53 L416.49,228.54 L417.06,228.55 L417.63,228.56 L418.20,228.57 L418.77,228.58 L419.34,228.59 L419.91,228.60 L420.49,228.61 L421.06,228.62 L421.63,228.63 L422.20,228.64 L422.77,228.65 L423.34,228.66 L423.91,228.67 L424.49,228.68 L425.06,228.69 L425.63,228.70 L426.20,228.71 L426.77,228.72 L427.34,228.73 L427.91,228.75 L428.49,228.76 L429.06,228.77 L429.63,228.78 L430.20,228.79 L430.77,228.80 L431.34,228.82 L431.91,228.83 L432.49,228.84 L433.06,228.85 L433.63,228.87 L434.20,228.88 L434.77,228.89 L435.34,228.91 L435.91,228.92 L436.49,228.93 L437.06,228.95 L437.63,228.96 L438.20,228.97 L438.86,228.99" fill="none" stroke="#ff00ff" stroke-width="2.8" stroke-linejoin="round"/>
<g stroke="#585858" stroke-width="0.68" fill="none">
<rect x="56.91" y="6.35" width="388.63" height="238.85"/>
<path d="M63.34,245.2 v-4.4 M63.34,6.35 v4.4 M75.83,245.2 v-2.7 M75.83,6.35 v2.7 M88.32,245.2 v-2.7 M88.32,6.35 v2.7 M100.81,245.2 v-2.7 M100.81,6.35 v2.7 M113.30,245.2 v-2.7 M113.30,6.35 v2.7 M125.79,245.2 v-4.4 M125.79,6.35 v4.4 M138.27,245.2 v-2.7 M138.27,6.35 v2.7 M150.76,245.2 v-2.7 M150.76,6.35 v2.7 M163.25,245.2 v-2.7 M163.25,6.35 v2.7 M175.74,245.2 v-2.7 M175.74,6.35 v2.7 M188.23,245.2 v-4.4 M188.23,6.35 v4.4 M200.72,245.2 v-2.7 M200.72,6.35 v2.7 M213.21,245.2 v-2.7 M213.21,6.35 v2.7 M225.69,245.2 v-2.7 M225.69,6.35 v2.7 M238.18,245.2 v-2.7 M238.18,6.35 v2.7 M250.67,245.2 v-4.4 M250.67,6.35 v4.4 M263.16,245.2 v-2.7 M263.16,6.35 v2.7 M275.65,245.2 v-2.7 M275.65,6.35 v2.7 M288.14,245.2 v-2.7 M288.14,6.35 v2.7 M300.63,245.2 v-2.7 M300.63,6.35 v2.7 M313.11,245.2 v-4.4 M313.11,6.35 v4.4 M325.60,245.2 v-2.7 M325.60,6.35 v2.7 M338.09,245.2 v-2.7 M338.09,6.35 v2.7 M350.58,245.2 v-2.7 M350.58,6.35 v2.7 M363.07,245.2 v-2.7 M363.07,6.35 v2.7 M375.56,245.2 v-4.4 M375.56,6.35 v4.4 M388.05,245.2 v-2.7 M388.05,6.35 v2.7 M400.53,245.2 v-2.7 M400.53,6.35 v2.7 M413.02,245.2 v-2.7 M413.02,6.35 v2.7 M425.51,245.2 v-2.7 M425.51,6.35 v2.7 M438.00,245.2 v-4.4 M438.00,6.35 v4.4 M56.91,243.05 h2.7 M445.54,243.05 h-2.7 M56.91,229.30 h4.4 M445.54,229.30 h-4.4 M56.91,215.55 h2.7 M445.54,215.55 h-2.7 M56.91,201.80 h2.7 M445.54,201.80 h-2.7 M56.91,188.05 h2.7 M445.54,188.05 h-2.7 M56.91,174.30 h4.4 M445.54,174.30 h-4.4 M56.91,160.55 h2.7 M445.54,160.55 h-2.7 M56.91,146.80 h2.7 M445.54,146.80 h-2.7 M56.91,133.05 h2.7 M445.54,133.05 h-2.7 M56.91,119.30 h4.4 M445.54,119.30 h-4.4 M56.91,105.55 h2.7 M445.54,105.55 h-2.7 M56.91,91.80 h2.7 M445.54,91.80 h-2.7 M56.91,78.05 h2.7 M445.54,78.05 h-2.7 M56.91,64.30 h4.4 M445.54,64.30 h-4.4 M56.91,50.55 h2.7 M445.54,50.55 h-2.7 M56.91,36.80 h2.7 M445.54,36.80 h-2.7 M56.91,23.05 h2.7 M445.54,23.05 h-2.7 M56.91,9.30 h4.4 M445.54,9.30 h-4.4"/>
</g>
<g font-family="'Liberation Sans', sans-serif" font-weight="bold" font-size="17.6" fill="#000" filter="url(#idf)">
<text x="52.86" y="235.85" text-anchor="end">0.0</text>
<text x="52.86" y="180.85" text-anchor="end">0.2</text>
<text x="52.86" y="125.85" text-anchor="end">0.4</text>
<text x="52.86" y="70.85" text-anchor="end">0.6</text>
<text x="52.86" y="15.85" text-anchor="end">0.8</text>
<text x="63.19" y="265.5" text-anchor="middle">0.0</text>
<text x="125.64" y="265.5" text-anchor="middle">0.5</text>
<text x="188.08" y="265.5" text-anchor="middle"><tspan dx="0.72">1</tspan><tspan dx="-0.72">.0</tspan></text>
<text x="250.52" y="265.5" text-anchor="middle"><tspan dx="0.72">1</tspan><tspan dx="-0.72">.5</tspan></text>
<text x="312.96" y="265.5" text-anchor="middle">2.0</text>
<text x="375.41" y="265.5" text-anchor="middle">2.5</text>
<text x="437.85" y="265.5" text-anchor="middle">3.0</text>
<rect x="176.87" y="262.90" width="3.81" height="3.4" fill="#fff"/>
<rect x="183.09" y="262.90" width="3.42" height="3.4" fill="#fff"/>
<rect x="239.31" y="262.90" width="3.81" height="3.4" fill="#fff"/>
<rect x="245.53" y="262.90" width="3.42" height="3.4" fill="#fff"/>
<text transform="translate(250.97,294.0) scale(0.935,1)" text-anchor="middle" font-style="italic" font-size="18.4">T</text>
<text transform="translate(16.09,125.75) rotate(-90) scale(0.975,1.02)" text-anchor="middle" stroke="#000" stroke-width="0.3">UIN</text>
<path d="M350.63,22.1 H374.11" stroke="#0000ff" stroke-width="2.6" fill="none"/>
<text x="381.94" y="28.80" font-size="17.4">J=0.7</text>
<path d="M350.63,55.5 H374.11" stroke="#ff0000" stroke-width="2.6" fill="none"/>
<text x="381.94" y="62.20" font-size="17.4">J=0</text>
<path d="M350.63,88.9 H374.11" stroke="#ff00ff" stroke-width="2.6" fill="none"/>
<text x="381.94" y="95.60" font-size="17.4">J=−0.7</text>
</g>
</g>
</svg>
</body></html>
